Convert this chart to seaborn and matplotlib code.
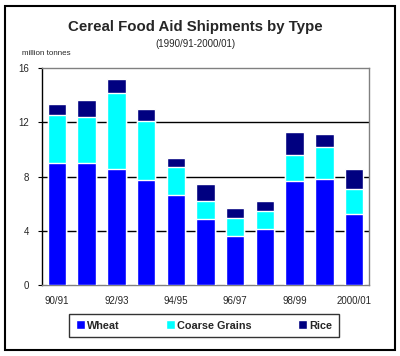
import matplotlib
matplotlib.use("Agg")
import matplotlib.pyplot as plt
from matplotlib.patches import Rectangle, Patch
import seaborn as sns
import pandas as pd

seasons = ["90/91", "91/92", "92/93", "93/94", "94/95", "95/96",
           "96/97", "97/98", "98/99", "99/00", "2000/01"]
wheat = [8.98, 8.98, 8.54, 7.73, 6.62, 4.85, 3.59, 4.11, 7.65, 7.80, 5.22]
coarse = [3.54, 3.40, 5.61, 4.35, 2.07, 1.33, 1.33, 1.33, 1.92, 2.36, 1.84]
rice = [0.82, 1.25, 1.03, 0.89, 0.66, 1.25, 0.74, 0.74, 1.70, 0.96, 1.48]
tick_labels = ["90/91", "", "92/93", "", "94/95", "", "96/97", "", "98/99", "", "2000/01"]

sns.set_theme(style="white")
plt.rcParams["font.family"] = ["Liberation Sans", "DejaVu Sans"]

df = pd.DataFrame({"season": seasons, "wheat": wheat, "coarse": coarse, "rice": rice})
df["wc"] = df["wheat"] + df["coarse"]
df["total"] = df["wc"] + df["rice"]

fig = plt.figure(figsize=(4.0, 3.56), dpi=100)
fig.patch.set_facecolor("white")
ax = fig.add_axes([0.105, 0.1994, 0.8175, 0.6096])

c_wheat, c_coarse, c_rice = "#0000FF", "#00FFFF", "#000080"
sns.barplot(data=df, x="season", y="total", color=c_rice, saturation=1, width=0.62, ax=ax, zorder=3)
sns.barplot(data=df, x="season", y="wc", color=c_coarse, saturation=1, width=0.62, ax=ax, zorder=3)
sns.barplot(data=df, x="season", y="wheat", color=c_wheat, saturation=1, width=0.62, ax=ax, zorder=3)

ax.set_ylim(0, 16)
ax.set_xlim(-0.5, len(seasons) - 0.5)
ax.set_yticks([0, 4, 8, 12, 16])
ax.set_yticklabels(["0", "4", "8", "12", "16"], fontsize=7)
ax.set_xticks(range(len(seasons)))
ax.set_xticklabels(tick_labels, fontsize=7)
ax.set_xlabel("")
ax.set_ylabel("")
ax.tick_params(axis="y", length=3, width=0.8, color="black", pad=6, left=True)
ax.tick_params(axis="x", length=0, pad=8)
for y in [4, 8, 12]:
    ax.axhline(y, color="black", lw=1.0, zorder=1)
ax.spines["left"].set_color("black")
ax.spines["left"].set_linewidth(1.0)
for s in ["top", "right", "bottom"]:
    ax.spines[s].set_color("#808080")
    ax.spines[s].set_linewidth(1.0)

fig.text(0.4875, 0.925, "Cereal Food Aid Shipments by Type", ha="center", va="center",
         fontsize=10.8, fontweight="bold")
fig.text(0.4875, 0.877, "(1990/91-2000/01)", ha="center", va="center", fontsize=7)
fig.text(0.055, 0.851, "million tonnes", ha="left", va="center", fontsize=5.8)

handles = [Patch(facecolor=c_wheat, label="Wheat"),
           Patch(facecolor=c_coarse, label="Coarse Grains"),
           Patch(facecolor=c_rice, label="Rice")]
leg = fig.legend(handles=handles, loc="center", bbox_to_anchor=(0.51, 0.086), ncol=3,
                 frameon=True, fancybox=False, edgecolor="black",
                 handlelength=0.9, handleheight=0.9, handletextpad=0.2, columnspacing=4.2,
                 borderpad=0.6, borderaxespad=0, prop={"weight": "bold", "size": 7.8})
leg.get_frame().set_linewidth(1.0)

fig.add_artist(Rectangle((5 / 400, 6 / 356), 390 / 400, 344 / 356, transform=fig.transFigure,
                         fill=False, lw=1.5, ec="black"))

fig.savefig("out.png", dpi=100, facecolor="white")
